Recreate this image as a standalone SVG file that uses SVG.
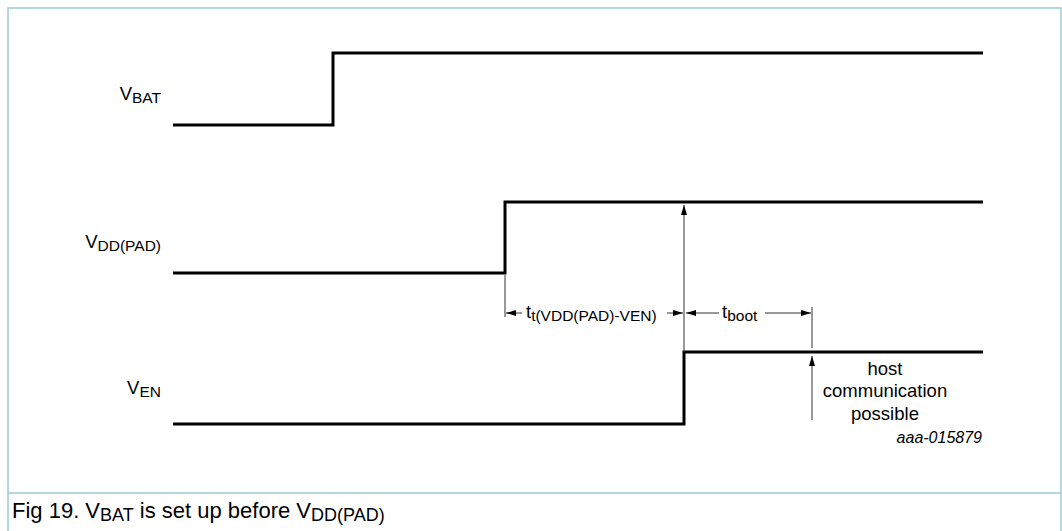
<svg xmlns="http://www.w3.org/2000/svg" width="1062" height="531" viewBox="0 0 1062 531">
<defs>
<style>
.frame{fill:none;stroke:#9ccbd3;stroke-width:1.5}
.sig{fill:none;stroke:#000;stroke-width:3;stroke-linejoin:miter}
.thin{fill:none;stroke:#333;stroke-width:1}
.lbl{font-family:"Liberation Sans",Arial,sans-serif;font-size:18.5px;fill:#000}
.sub{font-size:15.5px}
.cap{font-family:"Liberation Sans",Arial,sans-serif;font-size:22px;fill:#000}
.csub{font-size:18px}
.code{font-family:"Liberation Sans",Arial,sans-serif;font-size:16px;font-style:italic;fill:#000}
</style>
<marker id="ah" viewBox="0 0 10 6" refX="10" refY="3" markerWidth="10" markerHeight="6" markerUnits="userSpaceOnUse" orient="auto">
<path d="M0,0 L10,3 L0,6 Z" fill="#000"/>
</marker>
</defs>
<rect width="1062" height="531" fill="#fff"/>
<g id="frame">
<path class="frame" d="M8,540 V8 H1061 V540"/>
<line class="frame" x1="8" y1="493" x2="1061" y2="493"/>
</g>
<g id="vbat">
<polyline class="sig" points="173,125 333,125 333,53 983,53"/>
<text class="lbl" x="161" y="100" text-anchor="end">V<tspan class="sub" dy="3">BAT</tspan></text>
</g>
<g id="vddpad">
<polyline class="sig" points="173,273 505,273 505,202 983,202"/>
<text class="lbl" x="161" y="248" text-anchor="end">V<tspan class="sub" dy="3">DD(PAD)</tspan></text>
</g>
<g id="ven">
<polyline class="sig" points="173,424 684,424 684,352 983,352"/>
<text class="lbl" x="161" y="394" text-anchor="end">V<tspan class="sub" dy="3">EN</tspan></text>
</g>
<g id="connectors">
<line class="thin" x1="505" y1="275" x2="505" y2="317"/>
<line class="thin" x1="684" y1="352" x2="684" y2="205" marker-end="url(#ah)"/>
<line class="thin" x1="812" y1="307" x2="812" y2="348"/>
<line class="thin" x1="812" y1="420" x2="812" y2="356" marker-end="url(#ah)"/>
<line class="thin" x1="522" y1="313" x2="506" y2="313" marker-end="url(#ah)"/>
<line class="thin" x1="667" y1="313" x2="683" y2="313" marker-end="url(#ah)"/>
<line class="thin" x1="719" y1="313" x2="686" y2="313" marker-end="url(#ah)"/>
<line class="thin" x1="765" y1="313" x2="811" y2="313" marker-end="url(#ah)"/>
</g>
<g id="labels">
<text class="lbl" x="526" y="318">t<tspan class="sub" dy="3">t(VDD(PAD)-VEN)</tspan></text>
<text class="lbl" x="722" y="318">t<tspan class="sub" dy="3">boot</tspan></text>
<text class="lbl" x="885" y="375" text-anchor="middle">host</text>
<text class="lbl" x="885" y="397" text-anchor="middle">communication</text>
<text class="lbl" x="885" y="420" text-anchor="middle">possible</text>
<text class="code" x="982" y="443" text-anchor="end">aaa-015879</text>
</g>
<g id="caption">
<text class="cap" x="12" y="518">Fig 19. V<tspan class="csub" dy="3">BAT</tspan><tspan dy="-3"> is set up before V</tspan><tspan class="csub" dy="3">DD(PAD)</tspan></text>
</g>
</svg>
